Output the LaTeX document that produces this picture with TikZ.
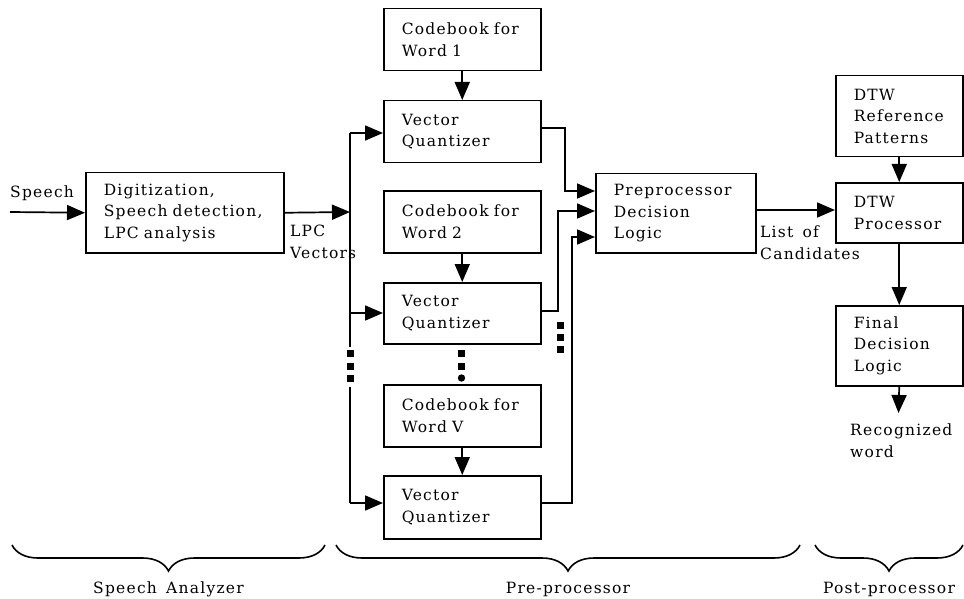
\documentclass[tikz,border=0pt]{standalone}
\usepackage{fontspec}
\setmainfont{DejaVu Serif}
\newfontfamily\diagfont[LetterSpace=8,WordSpace=1.5]{DejaVu Serif}
\usetikzlibrary{arrows.meta,decorations.pathreplacing}
\begin{document}
\begin{tikzpicture}[x=1pt,y=-1pt,
  every node/.style={font=\diagfont\fontsize{15.5}{21.5}\selectfont},
  box/.style={draw, line width=1.5pt, anchor=north west, inner xsep=18pt, inner ysep=0pt, align=left},
  lbl/.style={anchor=base west, inner sep=0pt, align=left},
  grplbl/.style={anchor=base, inner sep=0pt},
  conn/.style={line width=1.7pt},
  arr/.style={line width=1.7pt, -{Triangle[length=18pt,width=15pt]}},
  grpbrace/.style={decorate, decoration={brace, mirror, amplitude=26pt}, line width=1.6pt}]
\useasboundingbox (0,0) rectangle (964,599);
\clip (0,0) rectangle (964,599);

% boxes
\node[box, text width=162pt, minimum height=80pt] (speech) at (85,172) {Digitization,\\Speech~detection,\\LPC~analysis};
\node[box, text width=121pt, minimum height=62pt] (cb1) at (383,8) {Codebook~for\\Word~1};
\node[box, text width=121pt, minimum height=62pt] (vq1) at (383,100) {Vector\\Quantizer};
\node[box, text width=121pt, minimum height=62pt] (cb2) at (383,190) {Codebook~for\\Word~2};
\node[box, text width=121pt, minimum height=61pt] (vq2) at (383,282) {Vector\\Quantizer};
\node[box, text width=121pt, minimum height=62pt] (cbv) at (383,384) {Codebook~for\\Word~V};
\node[box, text width=121pt, minimum height=63pt] (vq3) at (383,475) {Vector\\Quantizer};
\node[box, text width=124pt, minimum height=79pt] (pre) at (595,173) {Preprocessor\\Decision\\Logic};
\node[box, text width=91pt, minimum height=81pt] (ref) at (835,75) {DTW\\Reference\\Patterns};
\node[box, text width=91pt, minimum height=60pt] (dtw) at (835,182) {DTW\\Processor};
\node[box, text width=91pt, minimum height=80pt] (final) at (835,305) {Final\\Decision\\Logic};

% labels (base = baseline of last line)
\node[lbl] (speechlbl) at (10,197) {Speech};
\node[lbl] (lpclbl) at (290,258) {LPC\\Vectors};
\node[lbl] (listlbl) at (760,259) {List~of\\Candidates};
\node[lbl] (reclbl) at (850,457) {Recognized\\word};

% coordinates
\coordinate (sin) at (10,212);
\coordinate (bus) at (350,212);
\coordinate (bustop) at (350,133);
\coordinate (busa) at (350,347);
\coordinate (busb) at (350,387);
\coordinate (busbot) at (350,503);
\coordinate (b2) at (350,313);
\coordinate (o1) at (540,128);
\coordinate (c1) at (565,191);
\coordinate (i1) at (595,191);
\coordinate (o2) at (540,311);
\coordinate (c2) at (558,211);
\coordinate (i2) at (595,211);
\coordinate (o3) at (540,503);
\coordinate (c3) at (572,237);
\coordinate (i3) at (595,237);
\coordinate (po) at (755,210);
\coordinate (di) at (835,210);
\coordinate (rw) at (898.5,413);

% connectors
\draw[arr] (sin) -- (speech.west);
\draw[arr] (speech.east) -- (bus);
\draw[conn] (bustop) -- (busa);
\draw[conn] (busb) -- (busbot);
\draw[arr] (bustop) -- (bustop -| vq1.west);
\draw[arr] (b2) -- (b2 -| vq2.west);
\draw[arr] (busbot) -- (busbot -| vq3.west);
\draw[arr] (cb1) -- (vq1);
\draw[arr] (cb2) -- (vq2);
\draw[arr] (cbv) -- (vq3);
\draw[arr] (o1) -| (c1) -- (i1);
\draw[arr] (o2) -| (c2) -- (i2);
\draw[arr] (o3) -| (c3) -- (i3);
\draw[arr] (po) -- (di);
\draw[arr] (ref) -- (dtw);
\draw[arr] (dtw) -- (final);
\draw[arr] (final.south) -- (rw);

% dots
\foreach \y in {353,366,378} \fill (346.5,\y-3.5) rectangle ++(7,7);
\foreach \y in {353,366} \fill (458,\y-3.5) rectangle ++(7,7);
\fill (461.5,378) circle (3.7);
\foreach \y in {325,337,349} \fill (556.5,\y-3.5) rectangle ++(7,7);

% braces
\draw[grpbrace] (12,545) -- (325,545);
\draw[grpbrace] (336,545) -- (800,545);
\draw[grpbrace] (815,545) -- (963,545);
\node[grplbl] (g1) at (168.5,593) {Speech Analyzer};
\node[grplbl] (g2) at (568,593) {Pre-processor};
\node[grplbl] (g3) at (889,593) {Post-processor};
\end{tikzpicture}
\end{document}
